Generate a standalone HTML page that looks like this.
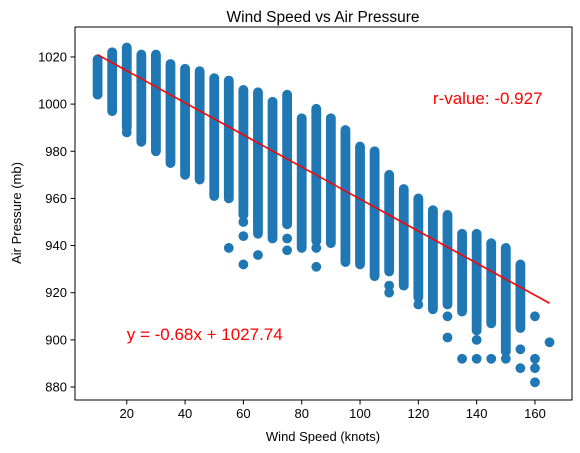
<!DOCTYPE html>
<html><head><meta charset="utf-8"><style>
html,body{margin:0;padding:0;background:#fff;}
svg{display:block;font-family:"Liberation Sans","DejaVu Sans",sans-serif;}
</style></head><body>
<svg id="chart" width="580" height="453">
<rect x="0" y="0" width="580" height="453" fill="#fff"/>
<g id="marks"></g>
<g id="axes"></g>
<text x="323" y="22" text-anchor="middle" font-size="15.5">Wind Speed vs Air Pressure</text>
<text x="323" y="441" text-anchor="middle" font-size="13">Wind Speed (knots)</text>
<text x="0" y="0" transform="translate(21,213) rotate(-90)" text-anchor="middle" font-size="13">Air Pressure (mb)</text>
</svg>
<script>
const speeds = [10,15,20,25,30,35,40,45,50,55,60,65,70,75,80,85,90,95,100,105,110,115,120,125,130,135,140,145,150,155,160,165];
const pTop =    [1019,1022,1024,1021,1021,1017,1015,1014,1011,1010,1006,1005,1001,1004,994,998,994,989,982,980,970,964,960,955,953,945,945,941,939,932,910,899];
const pBottom = [1004,997,990,984,980,975,970,968,961,960,953,945,943,949,939,942,941,933,932,927,929,923,918,913,915,912,904,907,895,905,910,899];
const outSpeed = [20,55,60,60,60,65,75,75,85,85,110,110,120,130,130,135,140,140,145,150,155,155,160,160,160];
const outP =     [988,939,950,944,932,936,943,938,939,931,923,920,915,910,901,892,900,892,892,892,896,888,892,888,882];
const regSlope = -0.68, regIntercept = 1027.74, rValue = -0.927;
const xTicks = [20,40,60,80,100,120,140,160];
const yTicks = [880,900,920,940,960,980,1000,1020];

const L=75,R=572,T=27,B=400, xMin=2.25,xMax=172.7, yMin=874.5,yMax=1032.7;
const sx=v=>L+(v-xMin)/(xMax-xMin)*(R-L);
const sy=v=>B-(v-yMin)/(yMax-yMin)*(B-T);
const NS="http://www.w3.org/2000/svg";
const marks=document.getElementById('marks'), axes=document.getElementById('axes');
function mk(tag,attrs,parent){const e=document.createElementNS(NS,tag);for(const k in attrs)e.setAttribute(k,attrs[k]);parent.appendChild(e);return e;}
const C="#1f77b4", r=4.9;
speeds.forEach((s,i)=>{
  const ln=mk('line',{x1:sx(s),x2:sx(s),y1:sy(pTop[i]),y2:sy(pBottom[i]),stroke:C,'stroke-width':2*r,'stroke-linecap':'round'},marks);
  
  
});
outSpeed.forEach((s,i)=>{
  const c=mk('circle',{cx:sx(s),cy:sy(outP[i]),r:r,fill:C},marks);
  
  
});
const rl=mk('line',{x1:sx(10),y1:sy(regSlope*10+regIntercept),x2:sx(165),y2:sy(regSlope*165+regIntercept),stroke:'#ff0000','stroke-width':1.6},marks);


const t1=mk('text',{x:sx(20),y:sy(900),fill:'#ff0000','font-size':17},marks);
t1.textContent='y = '+regSlope.toFixed(2)+'x + '+regIntercept.toFixed(2);


const t2=mk('text',{x:sx(125),y:sy(1000),fill:'#ff0000','font-size':17},marks);
t2.textContent='r-value: '+rValue.toFixed(3);


const fr=mk('rect',{x:L,y:T,width:R-L,height:B-T,fill:'none',stroke:'#000','stroke-width':1},axes);


xTicks.forEach(v=>{
  const x=sx(v);
  const tk=mk('line',{x1:x,x2:x,y1:B,y2:B+4.5,stroke:'#000','stroke-width':1},axes);
  
  
  const tl=mk('text',{x:x,y:B+18,'text-anchor':'middle','font-size':13},axes);
  tl.textContent=v;
  
  
});
yTicks.forEach(v=>{
  const y=sy(v);
  const tk=mk('line',{x1:L-4.5,x2:L,y1:y,y2:y,stroke:'#000','stroke-width':1},axes);
  
  
  const tl=mk('text',{x:L-8,y:y+4.5,'text-anchor':'end','font-size':13},axes);
  tl.textContent=v;
  
  
});
</script>
</body></html>
